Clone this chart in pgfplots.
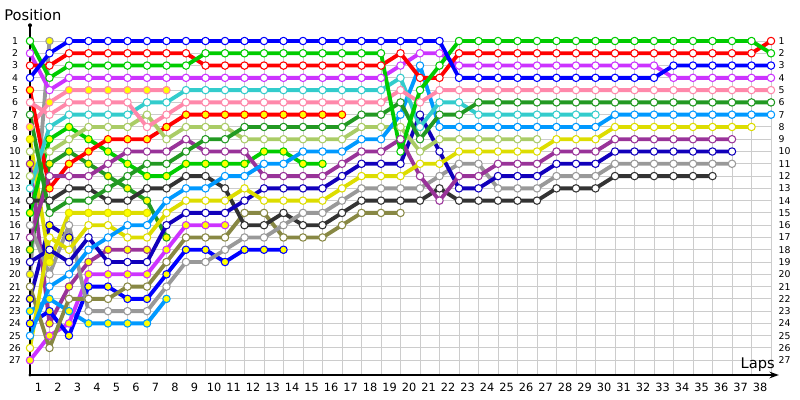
\documentclass[border=0pt]{standalone}
\usepackage{pgfplots}
\pgfplotsset{compat=1.18}
\usepackage{fontspec}
\setmainfont{DejaVu Sans}
\usetikzlibrary{arrows.meta}
\definecolor{cB}{HTML}{0000FF}
\definecolor{cR}{HTML}{FF0000}
\definecolor{cG}{HTML}{00CC00}
\definecolor{cM}{HTML}{CC33FF}
\definecolor{cC}{HTML}{33CCCC}
\definecolor{cP}{HTML}{FF88AA}
\definecolor{cDG}{HTML}{229922}
\definecolor{cLG}{HTML}{AACC66}
\definecolor{cS}{HTML}{0099FF}
\definecolor{cPU}{HTML}{993399}
\definecolor{cN}{HTML}{1100BB}
\definecolor{cY}{HTML}{DDDD00}
\definecolor{cGy}{HTML}{999999}
\definecolor{cK}{HTML}{333333}
\definecolor{cO}{HTML}{888844}
\definecolor{cFill}{HTML}{FFFF00}
\definecolor{cGrid}{HTML}{CCCCCC}
\pgfplotsset{
  dr/.style={color=#1, line width=2.9pt, line join=round, mark=*, mark size=2.8pt,
    mark options={fill=white, draw=#1, line width=0.8pt, solid}},
  dy/.style={color=#1, line width=2.9pt, line join=round, mark=*, mark size=2.8pt,
    mark options={fill=cFill, draw=#1, line width=0.8pt, solid}},
}
\begin{document}
\begin{tikzpicture}
\begin{axis}[
  at={(0,0)}, anchor=south west,
  scale only axis, width=555.75pt, height=250.5pt,
  xmin=0, xmax=38, ymin=1, ymax=28.2, y dir=reverse,
  clip=false,
  axis line style={draw=none},
  xtick={0.44,1.44,...,37.44},
  xticklabel={\pgfmathparse{int(round(\tick+0.56))}\pgfmathresult},
  minor xtick={0,1,...,38},
  ytick={1,2,...,27},
  xmajorgrids=false, xminorgrids=true, ymajorgrids=true,
  grid style={draw=cGrid, line width=0.75pt},
  minor grid style={draw=cGrid, line width=0.75pt},
  major tick length=0pt, minor tick length=0pt,
  tick style={draw=none},
  xticklabel style={font=\fontsize{8.5}{9}\selectfont, anchor=center, yshift=-9pt},
  yticklabel style={font=\fontsize{7}{8}\selectfont, anchor=center, xshift=-11.25pt},
  /pgf/number format/assume math mode=true,
]
% yellow-filled drivers
\addplot[dy=cGy] coordinates {(0,20)(1,1)};
\addplot[dr=cLG] coordinates {(0,12)};
\addplot[dy=cN] coordinates {(0,22)(1,16)(2,17)};
\addplot[dy=cPU] coordinates {(0,11)(1,24)(2,21)(3,19)(4,18)(5,18)(6,18)};
\addplot[dy=cY] coordinates {(0,9)(1,19)(2,15)(3,15)(4,15)(5,15)(6,15)};
\addplot[dy=cS] coordinates {(0,23)(1,22)(2,23)(3,24)(4,24)(5,24)(6,24)(7,22)};
\addplot[dy=cDG] coordinates {(0,18)(1,11)(2,10)(3,11)(4,12)(5,13)(6,14)(7,17)};
\addplot[dy=cP] coordinates {(0,8)(1,6)(2,5)(3,5)(4,5)(5,5)(6,5)(7,5)};
\addplot[dy=cM] coordinates {(0,27)(1,25)(2,24)(3,20)(4,20)(5,20)(6,20)(7,18)(8,16)(9,16)(10,16)};
\addplot[dy=cB] coordinates {(0,24)(1,23)(2,25)(3,21)(4,21)(5,22)(6,22)(7,20)(8,18)(9,18)(10,19)(11,18)(12,18)(13,18)};
\addplot[dy=cG] coordinates {(0,15)(1,9)(2,8)(3,9)(4,10)(5,11)(6,12)(7,12)(8,11)(9,11)(10,11)(11,11)(12,10)(13,10)(14,11)(15,11)};
\addplot[dy=cR] coordinates {(0,5)(1,13)(2,11)(3,10)(4,9)(5,9)(6,9)(7,8)(8,7)(9,7)(10,7)(11,7)(12,7)(13,7)(14,7)(15,7)(16,7)};
% open-marker drivers
\addplot[dr=cO] coordinates {(0,21)(1,26)(2,22)(3,22)(4,22)(5,21)(6,21)(7,19)(8,17)(9,17)(10,17)(11,15)(12,15)(13,17)(14,17)(15,17)(16,16)(17,15)(18,15)(19,15)};
\addplot[dr=cK] coordinates {(0,14)(1,14)(2,13)(3,13)(4,14)(5,14)(6,13)(7,13)(8,12)(9,12)(10,13)(11,16)(12,16)(13,15)(14,16)(15,16)(16,15)(17,14)(18,14)(19,14)(20,14)(21,13)(22,14)(23,14)(24,14)(25,14)(26,14)(27,13)(28,13)(29,13)(30,12)(31,12)(32,12)(33,12)(34,12)(35,12)};
\addplot[dr=cGy] coordinates {(0,16)(1,20)(2,16)(3,23)(4,23)(5,23)(6,23)(7,21)(8,19)(9,19)(10,18)(11,17)(12,17)(13,16)(14,15)(15,15)(16,14)(17,13)(18,13)(19,13)(20,13)(21,12)(22,11)(23,11)(24,13)(25,13)(26,13)(27,12)(28,12)(29,12)(30,11)(31,11)(32,11)(33,11)(34,11)(35,11)(36,11)};
\addplot[dr=cN] coordinates {(0,19)(1,18)(2,19)(3,17)(4,19)(5,19)(6,19)(7,16)(8,15)(9,15)(10,15)(11,14)(12,13)(13,13)(14,13)(15,13)(16,12)(17,11)(18,11)(19,11)(20,7)(21,10)(22,13)(23,13)(24,12)(25,12)(26,12)(27,11)(28,11)(29,11)(30,10)(31,10)(32,10)(33,10)(34,10)(35,10)(36,10)};
\addplot[dr=cPU] coordinates {(0,17)(1,12)(2,12)(3,12)(4,11)(5,10)(6,10)(7,10)(8,9)(9,10)(10,10)(11,10)(12,12)(13,12)(14,12)(15,12)(16,11)(17,10)(18,10)(19,9)(20,12)(21,14)(22,12)(23,12)(24,11)(25,11)(26,11)(27,10)(28,10)(29,10)(30,9)(31,9)(32,9)(33,9)(34,9)(35,9)(36,9)};
\addplot[dr=cY] coordinates {(0,26)(1,17)(2,18)(3,16)(4,16)(5,17)(6,17)(7,15)(8,14)(9,14)(10,14)(11,13)(12,14)(13,14)(14,14)(15,14)(16,13)(17,12)(18,12)(19,12)(20,11)(21,11)(22,10)(23,10)(24,10)(25,10)(26,10)(27,9)(28,9)(29,9)(30,8)(31,8)(32,8)(33,8)(34,8)(35,8)(36,8)(37,8)};
\addplot[dr=cLG] coordinates {(0,10)(1,10)(2,9)(3,8)(4,8)(5,8)(6,7)(7,9)(8,8)(9,8)(10,8)(11,9)(12,9)(13,9)(14,9)(15,9)(16,9)(17,8)(18,8)(19,8)(20,10)(21,9)(22,9)(23,9)(24,9)(25,9)(26,9)};
\addplot[dr=cS] coordinates {(0,25)(1,21)(2,20)(3,18)(4,17)(5,16)(6,16)(7,14)(8,13)(9,13)(10,12)(11,12)(12,11)(13,11)(14,10)(15,10)(16,10)(17,9)(18,9)(19,7)(20,3)(21,8)(22,8)(23,8)(24,8)(25,8)(26,8)(27,8)(28,8)(29,8)(30,7)(31,7)(32,7)(33,7)(34,7)(35,7)(36,7)(37,7)(38,7)};
\addplot[dr=cC] coordinates {(0,13)(1,8)(2,7)(3,7)(4,7)(5,7)(6,6)(7,6)(8,5)(9,5)(10,5)(11,5)(12,5)(13,5)(14,5)(15,5)(16,5)(17,5)(18,5)(19,4)(20,8)(21,6)(22,6)(23,7)(24,7)(25,7)(26,7)(27,7)(28,7)(29,7)};
\addplot[dr=cDG] coordinates {(0,7)(1,15)(2,14)(3,14)(4,13)(5,12)(6,11)(7,11)(8,10)(9,9)(10,9)(11,8)(12,8)(13,8)(14,8)(15,8)(16,8)(17,7)(18,7)(19,6)(20,9)(21,7)(22,7)(23,6)(24,6)(25,6)(26,6)(27,6)(28,6)(29,6)(30,6)(31,6)(32,6)(33,6)(34,6)(35,6)(36,6)(37,6)(38,6)};
\addplot[dr=cP] coordinates {(0,6)(1,7)(2,6)(3,6)(4,6)(5,6)(6,8)(7,7)(8,6)(9,6)(10,6)(11,6)(12,6)(13,6)(14,6)(15,6)(16,6)(17,6)(18,6)(19,5)(20,6)(21,5)(22,5)(23,5)(24,5)(25,5)(26,5)(27,5)(28,5)(29,5)(30,5)(31,5)(32,5)(33,5)(34,5)(35,5)(36,5)(37,5)(38,5)};
\addplot[dr=cM] coordinates {(0,2)(1,5)(2,4)(3,4)(4,4)(5,4)(6,4)(7,4)(8,4)(9,4)(10,4)(11,4)(12,4)(13,4)(14,4)(15,4)(16,4)(17,4)(18,4)(19,3)(20,2)(21,2)(22,3)(23,3)(24,3)(25,3)(26,3)(27,3)(28,3)(29,3)(30,3)(31,3)(32,3)(33,4)(34,4)(35,4)(36,4)(37,4)(38,4)};
\addplot[dr=cR] coordinates {(0,3)(1,3)(2,2)(3,2)(4,2)(5,2)(6,2)(7,2)(8,2)(9,3)(10,3)(11,3)(12,3)(13,3)(14,3)(15,3)(16,3)(17,3)(18,3)(19,2)(20,4)(21,4)(22,2)(23,2)(24,2)(25,2)(26,2)(27,2)(28,2)(29,2)(30,2)(31,2)(32,2)(33,2)(34,2)(35,2)(36,2)(37,2)(38,1)};
\addplot[dr=cG] coordinates {(0,1)(1,4)(2,3)(3,3)(4,3)(5,3)(6,3)(7,3)(8,3)(9,2)(10,2)(11,2)(12,2)(13,2)(14,2)(15,2)(16,2)(17,2)(18,2)(19,10)(20,5)(21,3)(22,1)(23,1)(24,1)(25,1)(26,1)(27,1)(28,1)(29,1)(30,1)(31,1)(32,1)(33,1)(34,1)(35,1)(36,1)(37,1)(38,2)};
\addplot[dr=cB] coordinates {(0,4)(1,2)(2,1)(3,1)(4,1)(5,1)(6,1)(7,1)(8,1)(9,1)(10,1)(11,1)(12,1)(13,1)(14,1)(15,1)(16,1)(17,1)(18,1)(19,1)(20,1)(21,1)(22,4)(23,4)(24,4)(25,4)(26,4)(27,4)(28,4)(29,4)(30,4)(31,4)(32,4)(33,3)(34,3)(35,3)(36,3)(37,3)(38,3)};
% axis lines
\draw[line width=1pt] (axis cs:0,28.2) -- (axis cs:0,-0.28);
\fill (axis cs:0,-0.28) circle (1.5pt);
\fill (axis cs:0,28.2) circle (1.3pt);
\draw[line width=1pt, -{Stealth[length=7pt,width=5pt]}] (axis cs:0,28.2) -- (axis cs:38.4,28.2);
% right-hand position labels
\pgfplotsinvokeforeach{1,...,27}{
  \node[anchor=west, inner sep=0pt, xshift=5.5pt, font=\fontsize{7}{8}\selectfont] at (axis cs:38,#1) {#1};
}
\node[anchor=west, inner sep=0pt, font=\fontsize{11}{12}\selectfont] at (axis cs:-1.33,-1.09) {Position};
\node[anchor=east, inner sep=0pt, font=\fontsize{11}{12}\selectfont] at (axis cs:38.21,27.33) {Laps};
\end{axis}
\pgfresetboundingbox
\path (-22.5pt,-18.75pt) rectangle (577.5pt,281.25pt);
\end{tikzpicture}
\end{document}
